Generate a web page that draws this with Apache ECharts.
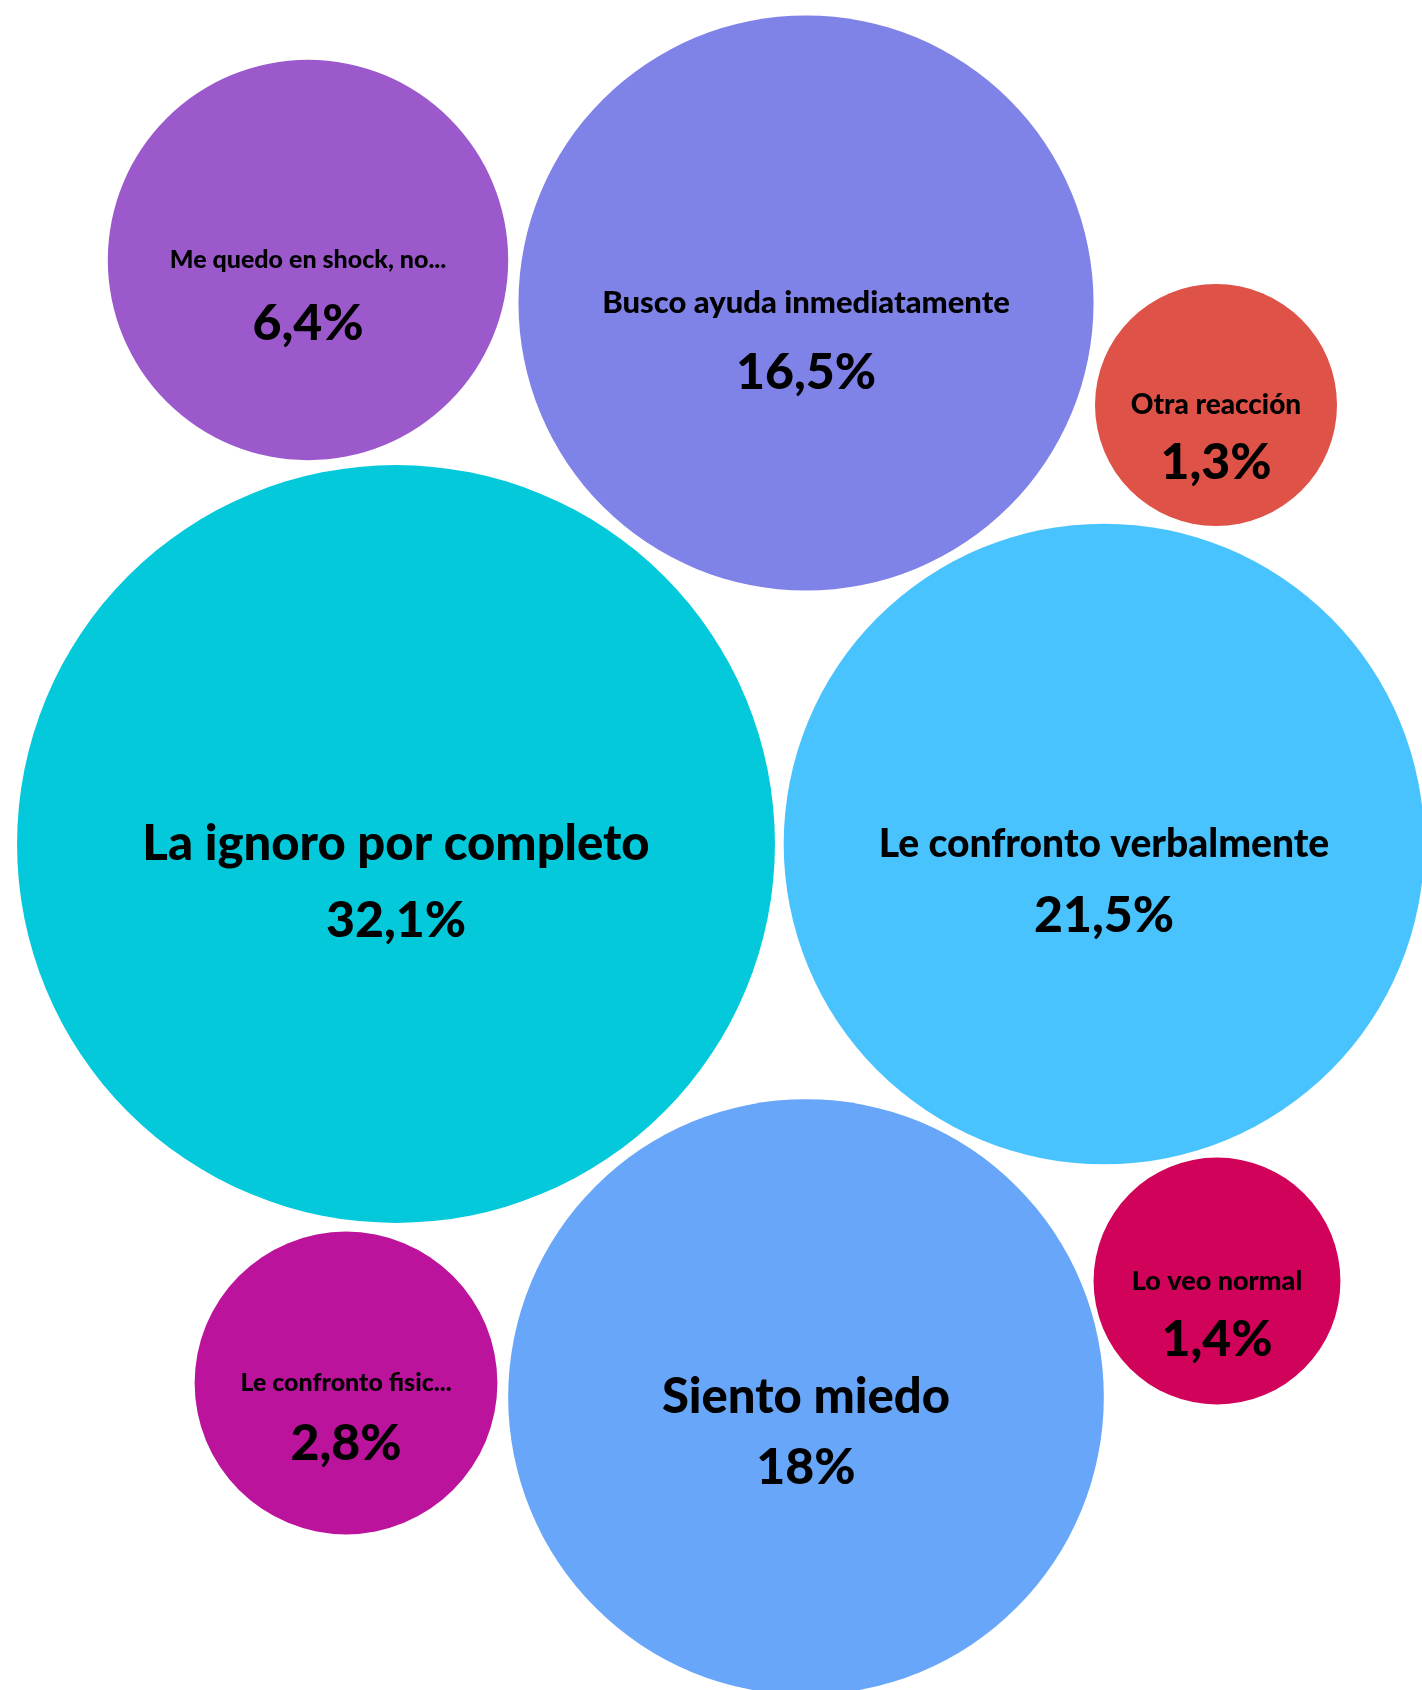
<!DOCTYPE html>
<html>
<head>
<meta charset="utf-8">
<title>Reacciones</title>
<script src="https://cdn.jsdelivr.net/npm/echarts@6/dist/echarts.min.js"></script>
<style>
  html, body { margin: 0; padding: 0; background: #fff; }
  #myEchar1 { width: 1422px; height: 1690px; }
</style>
</head>
<body>
<div id="myEchar1"></div>
<script>
var categories = ['Me quedo en shock, no...', 'Busco ayuda inmediatamente', 'Otra reacción', 'La ignoro por completo', 'Le confronto verbalmente', 'Siento miedo', 'Le confronto fisic...', 'Lo veo normal']
var percents = [6.4, 16.5, 1.3, 32.1, 21.5, 18, 2.8, 1.4]
// bubble centres of the packed layout (layout units, y goes down)
var posX = [308, 806, 1216, 396, 1104, 806, 346, 1217]
var posY = [260, 303, 405, 844, 844, 1397, 1383, 1281]

var palette = ['#9b59cb', '#7f82e6', '#df5247', '#03c9db', '#49c3fd', '#67a6f8', '#bc139c', '#d10259']
var fontFamily = 'Lato, "Noto Sans", sans-serif'

// bubble radius grows with the square root of the value
function radius (v) {
  return 56 + 57 * Math.sqrt(v)
}

var ctx = document.createElement('canvas').getContext('2d')
function nameSize (text, r) {
  ctx.font = '900 100px ' + fontFamily
  var w = ctx.measureText(text).width
  return Math.min(49, Math.floor(100 * 1.42 * r / w))
}

function fmtPct (v) {
  return String(v).replace('.', ',') + '%'
}

function bubbles () {
  var myChart = echarts.init(document.getElementById('myEchar1'))
  myChart.clear()

  var nameData = []
  var pctData = []
  for (var i = 0; i < categories.length; i++) {
    var r = radius(percents[i])
    nameData.push({
      name: categories[i],
      value: [posX[i], posY[i], percents[i]],
      itemStyle: { color: palette[i] },
      label: { fontSize: nameSize(categories[i], r) }
    })
    pctData.push({
      name: categories[i],
      value: [posX[i], posY[i], percents[i]],
      label: { offset: [0, Math.round(50 + 0.07 * r)] }
    })
  }

  var option = {
    animation: false,
    grid: { left: 0, right: 0, top: 0, bottom: 0 },
    xAxis: { type: 'value', min: 0, max: 1422, show: false },
    yAxis: { type: 'value', min: 0, max: 1690, inverse: true, show: false },
    series: [
      {
        name: 'reaccion',
        type: 'scatter',
        symbol: 'circle',
        symbolSize: function (val) { return 2 * radius(val[2]) },
        itemStyle: { opacity: 1 },
        label: {
          show: true,
          position: 'inside',
          color: '#000',
          fontFamily: fontFamily,
          fontWeight: 900,
          formatter: '{b}'
        },
        data: nameData
      },
      {
        name: 'porcentaje',
        type: 'scatter',
        symbol: 'circle',
        silent: true,
        z: 3,
        symbolSize: function (val) { return 2 * radius(val[2]) },
        itemStyle: { color: 'rgba(0,0,0,0)', opacity: 1 },
        label: {
          show: true,
          position: 'inside',
          color: '#000',
          fontFamily: fontFamily,
          fontWeight: 900,
          fontSize: 50,
          formatter: function (p) { return fmtPct(p.value[2]) }
        },
        data: pctData
      }
    ]
  }
  option && myChart.setOption(option)
  window.addEventListener('resize', function () {
    myChart.resize()
  })
}

bubbles()
</script>
</body>
</html>
